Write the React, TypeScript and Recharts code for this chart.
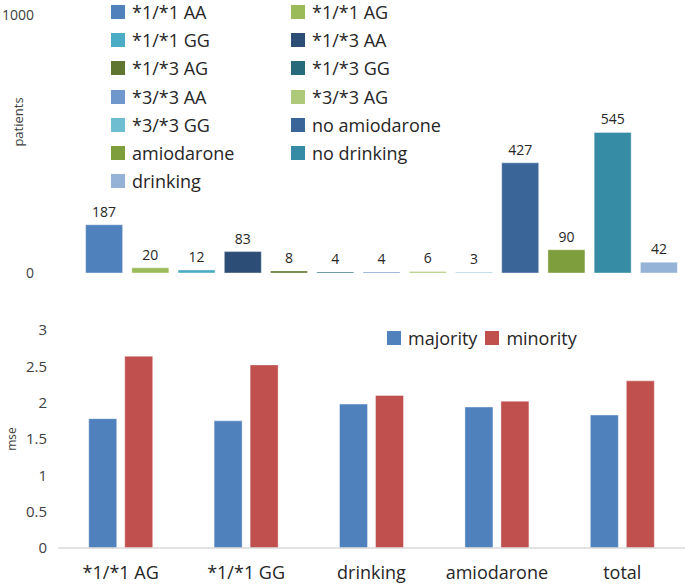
import React from 'react';
import { BarChart, Bar, XAxis, YAxis, Cell, LabelList, Legend } from 'recharts';

const groupNames = [
  '*1/*1 AA', '*1/*1 AG', '*1/*1 GG', '*1/*3 AA', '*1/*3 AG', '*1/*3 GG',
  '*3/*3 AA', '*3/*3 AG', '*3/*3 GG', 'no amiodarone', 'amiodarone', 'no drinking', 'drinking',
];
const patientCounts = [187, 20, 12, 83, 8, 4, 4, 6, 3, 427, 90, 545, 42];
const groupColors = [
  '#4F81BD', '#9BBB59', '#4BACC6', '#2C4D75', '#5F7530', '#276A7C',
  '#7097CB', '#AFC97A', '#6FBDD1', '#3A6599', '#7E9D3C', '#358CA4', '#95B3D7',
];
const patientTicks = [0, 1000];

const mseCategories = ['*1/*1 AG', '*1/*1 GG', 'drinking', 'amiodarone', 'total'];
const majorityMse = [1.78, 1.75, 1.98, 1.94, 1.83];
const minorityMse = [2.64, 2.52, 2.1, 2.02, 2.3];
const mseTicks = [0, 0.5, 1, 1.5, 2, 2.5, 3];
const mseSeries = ['majority', 'minority'];
const mseColors = ['#4F81BD', '#C0504D'];

const FONT = '"Open Sans", sans-serif';
const TEXT = '#404040';
const DARK = '#262626';

const patientData = groupNames.map((name, i) => ({ name, value: patientCounts[i] }));
const mseData = mseCategories.map((name, i) => ({
  name,
  majority: majorityMse[i],
  minority: minorityMse[i],
}));

const GroupLegend = () => (
  <div
    style={{
      display: 'grid',
      gridTemplateColumns: '180px 180px',
      fontFamily: FONT,
      fontSize: 18,
      lineHeight: '20px',
      color: DARK,
    }}
  >
    {groupNames.map((n, i) => (
      <div key={n} style={{ display: 'flex', alignItems: 'center', height: 28.2, whiteSpace: 'nowrap' }}>
        <span style={{ width: 14, height: 14, background: groupColors[i], display: 'inline-block', marginRight: 7 }} />
        <span>{n}</span>
      </div>
    ))}
  </div>
);

const MseLegend = () => (
  <div style={{ display: 'flex', alignItems: 'center', fontFamily: FONT, fontSize: 18, lineHeight: '20px', color: DARK, height: 20 }}>
    {mseSeries.map((n, i) => (
      <div key={n} style={{ display: 'flex', alignItems: 'center', marginRight: 8, whiteSpace: 'nowrap' }}>
        <span style={{ width: 14, height: 14, background: mseColors[i], display: 'inline-block', marginRight: 7 }} />
        <span>{n}</span>
      </div>
    ))}
  </div>
);

export default function App() {
  return (
    <div style={{ position: 'absolute', left: 0, top: 0, width: 685, height: 585, background: '#fff' }}>
      <div style={{ position: 'absolute', left: 0, top: 0 }}>
        <BarChart
          width={685}
          height={290}
          data={patientData}
          margin={{ top: 15, right: 3, bottom: 17, left: 0 }}
          barCategoryGap="10%"
        >
          <XAxis dataKey="name" hide />
          <YAxis
            width={81}
            domain={[0, 1000]}
            ticks={patientTicks}
            axisLine={false}
            tickLine={false}
            tickSize={0}
            tickMargin={47}
            tick={{ fontSize: 14, fill: TEXT, fontFamily: FONT }}
            label={{
              value: 'patients',
              angle: -90,
              position: 'insideLeft',
              offset: 18,
              dy: -22,
              style: { textAnchor: 'middle', fontSize: 13, fill: TEXT, fontFamily: FONT },
            }}
          />
          <Legend
            layout="vertical"
            align="center"
            verticalAlign="middle"
            wrapperStyle={{ left: 111, top: -2, width: 380 }}
            content={() => <GroupLegend />}
          />
          <Bar dataKey="value" isAnimationActive={false} stroke="#ffffff" strokeOpacity={0.4} strokeWidth={1}>
            {patientData.map((d, i) => (
              <Cell key={d.name} fill={groupColors[i]} />
            ))}
            <LabelList
              dataKey="value"
              position="top"
              offset={8}
              style={{ fontSize: 14, fill: DARK, fontFamily: FONT, stroke: 'none' }}
            />
          </Bar>
        </BarChart>
      </div>
      <div style={{ position: 'absolute', left: 0, top: 290 }}>
        <BarChart
          width={685}
          height={295}
          data={mseData}
          margin={{ top: 40, right: 0, bottom: 0, left: 0 }}
          barCategoryGap="24.5%"
          barGap={8}
        >
          <XAxis
            dataKey="name"
            height={37}
            tickLine={false}
            tickSize={0}
            tickMargin={18}
            axisLine={{ stroke: '#d9d9d9', strokeWidth: 1.5 }}
            tick={{ fontSize: 18, fill: DARK, fontFamily: FONT }}
            interval={0}
          />
          <YAxis
            width={58}
            domain={[0, 3]}
            ticks={mseTicks}
            axisLine={false}
            tickLine={false}
            tickSize={0}
            tickMargin={11}
            tick={{ fontSize: 15, fill: TEXT, fontFamily: FONT }}
            label={{
              value: 'mse',
              angle: -90,
              position: 'insideLeft',
              offset: 12,
              style: { textAnchor: 'middle', fontSize: 12, fill: TEXT, fontFamily: FONT },
            }}
          />
          <Legend
            layout="vertical"
            align="center"
            verticalAlign="middle"
            wrapperStyle={{ left: 387, top: 38, width: 260 }}
            content={() => <MseLegend />}
          />
          <Bar dataKey="majority" fill={mseColors[0]} stroke="#ffffff" strokeOpacity={0.4} isAnimationActive={false} />
          <Bar dataKey="minority" fill={mseColors[1]} stroke="#ffffff" strokeOpacity={0.4} isAnimationActive={false} />
        </BarChart>
      </div>
    </div>
  );
}
